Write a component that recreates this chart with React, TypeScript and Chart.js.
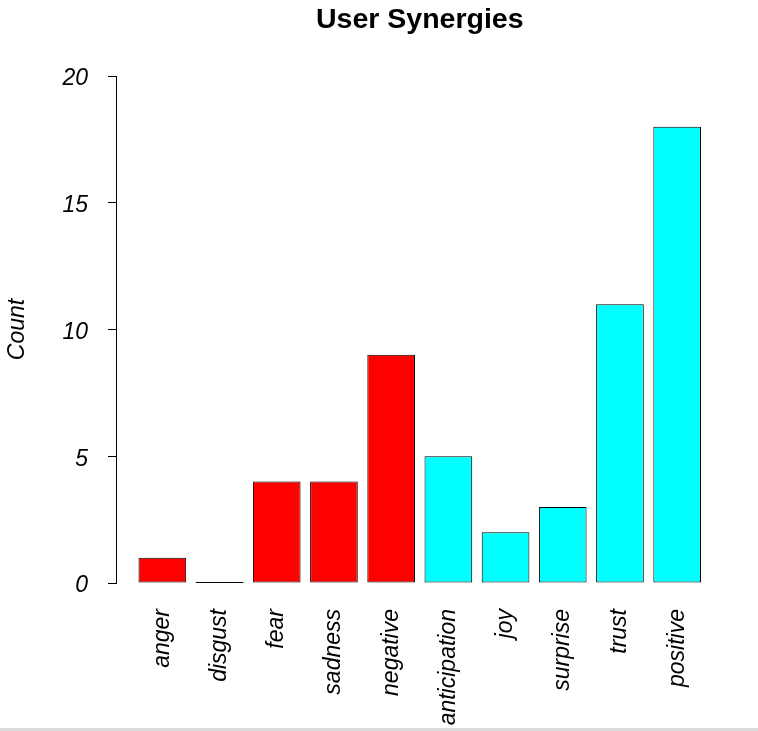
import React, { useEffect, useRef } from "react";
import { Chart, registerables } from "chart.js";

Chart.register(...registerables);

const categories = ["anger", "disgust", "fear", "sadness", "negative", "anticipation", "joy", "surprise", "trust", "positive"];
const counts = [1, 0, 4, 4, 9, 5, 2, 3, 11, 18];
const barColors = ["#FF0000", "#FF0000", "#FF0000", "#FF0000", "#FF0000", "#00FFFF", "#00FFFF", "#00FFFF", "#00FFFF", "#00FFFF"];
const yTicks = [0, 5, 10, 15, 20];
const titleText = "User Synergies";

const FONT = "'Liberation Sans', Arial, Helvetica, sans-serif";
const SPACE = 0.2;
const centerOf = (i: number) => SPACE + 0.5 + i * (1 + SPACE);

const zeroBarPlugin = {
  id: "zeroBar",
  afterDatasetsDraw(chart: any) {
    const ctx = chart.ctx;
    const meta = chart.getDatasetMeta(0);
    meta.data.forEach((el: any, i: number) => {
      if (counts[i] === 0) {
        ctx.save();
        ctx.strokeStyle = "#000";
        ctx.lineWidth = 1;
        ctx.beginPath();
        ctx.moveTo(el.x - el.width / 2, Math.round(el.base) - 0.5);
        ctx.lineTo(el.x + el.width / 2, Math.round(el.base) - 0.5);
        ctx.stroke();
        ctx.restore();
      }
    });
  },
};

const centeredTitlePlugin = {
  id: "centeredTitle",
  afterDraw(chart: any) {
    const ctx = chart.ctx;
    const a = chart.chartArea;
    ctx.save();
    ctx.fillStyle = "#000";
    ctx.font = `bold 28.5px ${FONT}`;
    ctx.textAlign = "center";
    ctx.textBaseline = "alphabetic";
    ctx.fillText(titleText, (a.left + a.right) / 2, 28);
    ctx.restore();
  },
};

export default function App() {
  const ref = useRef<HTMLCanvasElement>(null);
  useEffect(() => {
    if (!ref.current) return;
    const n = categories.length;
    const span = n * (1 + SPACE) - SPACE;
    const lo = SPACE - 0.04 * span;
    const hi = n * (1 + SPACE) + 0.04 * span;
    const chart = new Chart(ref.current, {
      type: "bar",
      data: {
        datasets: [
          {
            data: counts.map((v, i) => ({ x: centerOf(i), y: v })),
            backgroundColor: barColors,
            borderColor: "#000",
            borderWidth: 1,
            borderSkipped: false,
            barPercentage: 1 / (1 + SPACE),
            categoryPercentage: 1,
          },
        ],
      },
      options: {
        animation: false,
        responsive: false,
        devicePixelRatio: 1,
        layout: { padding: { left: 0, right: 34.5, top: 76, bottom: 0 } },
        plugins: {
          legend: { display: false },
          tooltip: { enabled: false },
          title: { display: false },
        },
        scales: {
          x: {
            type: "linear",
            offset: false,
            min: lo,
            max: hi,
            grid: { display: false },
            border: { display: false },
            afterBuildTicks: (scale: any) => {
              scale.ticks = categories.map((_, i) => ({ value: centerOf(i) }));
            },
            afterFit: (scale: any) => {
              scale.height = 145;
            },
            ticks: {
              autoSkip: false,
              minRotation: 90,
              maxRotation: 90,
              padding: 18,
              color: "#000",
              font: { family: FONT, size: 23, style: "italic" },
              callback: (_v: any, i: number) => categories[i],
            },
          },
          y: {
            min: 0,
            max: 20,
            afterBuildTicks: (scale: any) => {
              scale.ticks = yTicks.map((v) => ({ value: v }));
            },
            afterFit: (scale: any) => {
              scale.width = 116;
            },
            grid: { display: true, drawOnChartArea: false, drawTicks: true, tickLength: 8, color: "#000", lineWidth: 1 },
            border: { display: true, color: "#000", width: 1 },
            ticks: {
              padding: 20,
              labelOffset: 3,
              color: "#000",
              font: { family: FONT, size: 23, style: "italic" },
            },
            title: {
              display: true,
              text: "Count",
              color: "#000",
              font: { family: FONT, size: 23, style: "italic" },
              padding: { top: 4, bottom: 0 },
            },
          },
        },
      },
      plugins: [zeroBarPlugin, centeredTitlePlugin],
    } as any);
    return () => chart.destroy();
  }, []);
  return (
    <div style={{ position: "absolute", left: 0, top: 0, width: 758, height: 731, background: "#fff" }}>
      <canvas ref={ref} width={758} height={728} style={{ display: "block", width: 758, height: 728 }} />
      <div style={{ width: 758, height: 3, background: "#dcdcdc" }} />
    </div>
  );
}
